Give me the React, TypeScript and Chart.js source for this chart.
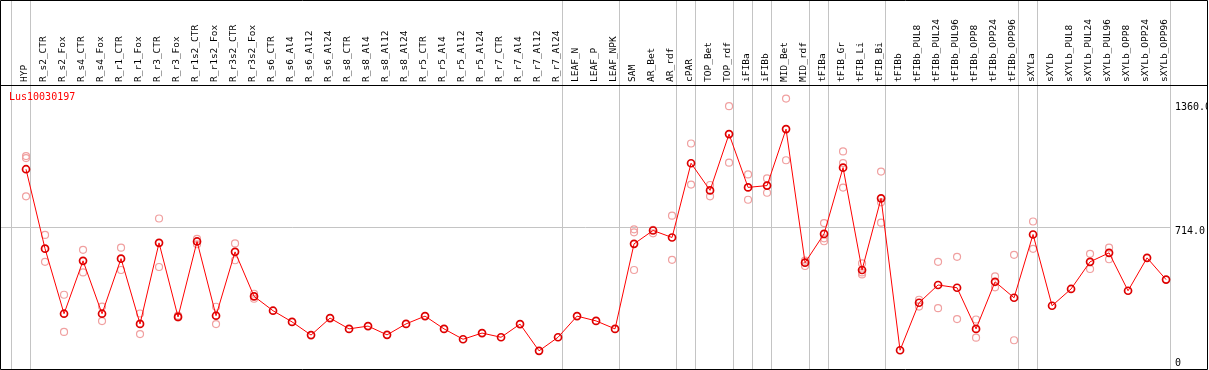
import React, { useEffect, useRef } from 'react';
import { Chart, registerables } from 'chart.js';

Chart.register(...registerables);

// ---------- data ----------
const categories = [
  'HYP',
  'R_s2_CTR', 'R_s2_Fox', 'R_s4_CTR', 'R_s4_Fox', 'R_r1_CTR', 'R_r1_Fox', 'R_r3_CTR', 'R_r3_Fox',
  'R_r1s2_CTR', 'R_r1s2_Fox', 'R_r3s2_CTR', 'R_r3s2_Fox',
  'R_s6_CTR', 'R_s6_Al4', 'R_s6_Al12', 'R_s6_Al24',
  'R_s8_CTR', 'R_s8_Al4', 'R_s8_Al12', 'R_s8_Al24',
  'R_r5_CTR', 'R_r5_Al4', 'R_r5_Al12', 'R_r5_Al24',
  'R_r7_CTR', 'R_r7_Al4', 'R_r7_Al12', 'R_r7_Al24',
  'LEAF_N', 'LEAF_P', 'LEAF_NPK',
  'SAM', 'AR_Bet', 'AR_rdf', 'cPAR', 'TOP_Bet', 'TOP_rdf', 'iFIBa', 'iFIBb', 'MID_Bet', 'MID_rdf',
  'tFIBa', 'tFIB_Gr', 'tFIB_Li', 'tFIB_Bi',
  'tFIBb', 'tFIBb_PUL8', 'tFIBb_PUL24', 'tFIBb_PUL96', 'tFIBb_OPP8', 'tFIBb_OPP24', 'tFIBb_OPP96',
  'sXYLa',
  'sXYLb', 'sXYLb_PUL8', 'sXYLb_PUL24', 'sXYLb_PUL96', 'sXYLb_OPP8', 'sXYLb_OPP24', 'sXYLb_OPP96',
];

const meanValues = [
  1006,
  608, 282, 547, 282, 558, 231, 637, 266,
  644, 272, 592, 369,
  297, 241, 175, 260,
  206, 220, 176, 231,
  270, 206, 154, 185,
  164, 230, 96, 164,
  270, 246, 206,
  632, 699, 664, 1036, 900, 1182, 915, 924, 1207, 538,
  682, 1014, 501, 860,
  99, 337, 426, 412, 206, 442, 362,
  679,
  322, 406, 542, 587, 397, 562, 453,
];

const N = null;
const rep1 = [
  1072,
  677, 377, 602, 318, 613, 283, 759, 272,
  657, 317, 634, 382,
  N, N, N, N,
  N, N, N, N,
  N, N, N, N,
  N, N, N, N,
  N, N, N,
  705, 702, 773, 1135, 927, 1322, 980, 960, 1360, 548,
  736, 1095, 534, 994,
  N, 352, 542, 567, 253, 469, 577,
  744,
  N, N, 582, 613, N, N, N,
];
const rep2 = [
  1062,
  542, 191, 489, 245, 501, 180, 516, 263,
  630, 230, 550, 357,
  N, N, N, N,
  N, N, N, N,
  N, N, N, N,
  N, N, N, N,
  N, N, N,
  690, 685, 552, 929, 870, 1039, 853, 888, 1051, 521,
  660, 1037, 489, 840,
  N, 318, 310, 255, 162, 414, 149,
  607,
  N, N, 506, 555, N, N, N,
];
const rep3 = [
  870,
  N, N, N, N, N, N, N, N,
  N, N, N, N,
  N, N, N, N,
  N, N, N, N,
  N, N, N, N,
  N, N, N, N,
  N, N, N,
  501, N, N, N, N, N, N, N, N, N,
  645, 914, 479, 738,
  N, N, N, N, N, N, N,
  N,
  N, N, N, N, N, N, N,
];

// last category index of each group (group separators drawn just after them)
const groupEnds = [-1, 0, 28, 31, 34, 35, 37, 38, 39, 41, 42, 45, 52, 53, 60];

const yTickValues = [0, 714, 1360];
const yTickLabels = ['0', '714.0', '1360.0'];
const yGridValues = [714];
const geneName = 'Lus10030197';

// ---------- layout / style constants ----------
const W = 1209;
const H = 370;
const HEADER_H = 85;
const Y_AXIS_W = 38;
const X_MIN = -1.37;
const X_MAX = 60.26;
const Y_MAX = 1428;
const SEP_OFFSET = 0.25;
const LABEL_OFFSET = 0.54;
const Y_LABEL_SHIFT = [-7, 4, 9];
const MONO = 'DejaVu Sans Mono';
const GRID = '#c4c4c4';

const toPoints = (arr: (number | null)[]) =>
  arr
    .map((v, i) => (v == null ? null : { x: i, y: v }))
    .filter((p) => p !== null) as { x: number; y: number }[];

const zeroPad = (a: any) => {
  a.paddingLeft = 0;
  a.paddingRight = 0;
  a.paddingTop = 0;
  a.paddingBottom = 0;
};

const yLabelShiftPlugin = {
  id: 'yLabelShift',
  beforeDraw(chart: any) {
    const s = chart.scales.y;
    if (!s) return;
    const items = s.getLabelItems(chart.chartArea);
    items.forEach((it: any, idx: number) => {
      if (it.__shifted) return;
      const shift = Y_LABEL_SHIFT[idx] ?? 0;
      it.options.translation = [it.options.translation[0], it.options.translation[1] + shift];
      it.__shifted = true;
    });
  },
};

const framePlugin = {
  id: 'frame',
  afterDraw(chart: any) {
    const ctx = chart.ctx as CanvasRenderingContext2D;
    const area = chart.chartArea;
    ctx.save();
    ctx.fillStyle = '#fff';
    ctx.fillRect(W - 1, 0, 1, H);
    ctx.strokeStyle = '#000';
    ctx.lineWidth = 1;
    ctx.beginPath();
    ctx.rect(0.5, 0.5, W - 2, H - 1);
    ctx.moveTo(0, area.top + 0.5);
    ctx.lineTo(W - 1, area.top + 0.5);
    ctx.stroke();
    ctx.fillStyle = '#ff0000';
    ctx.font = `10px "${MONO}"`;
    ctx.textAlign = 'left';
    ctx.textBaseline = 'middle';
    ctx.fillText(geneName, 9, area.top + 12);
    ctx.restore();
  },
};

const repStyle = {
  showLine: false,
  pointRadius: 3.5,
  pointBorderWidth: 1.2,
  pointBorderColor: '#f0a0a0',
  pointBackgroundColor: 'rgba(0,0,0,0)',
  borderColor: '#f0a0a0',
  order: 1,
};

export default function App() {
  const ref = useRef<HTMLCanvasElement>(null);

  useEffect(() => {
    document.body.style.margin = '0';
    Chart.defaults.font.family = MONO;
    const canvas = ref.current!;
    const chart = new Chart(canvas, {
      type: 'line',
      data: {
        datasets: [
          {
            label: 'mean',
            data: toPoints(meanValues),
            borderColor: '#ff0000',
            borderWidth: 1,
            tension: 0,
            pointRadius: 3.5,
            pointBorderWidth: 1.7,
            pointBorderColor: '#dd0000',
            pointBackgroundColor: 'rgba(0,0,0,0)',
            order: 0,
          },
          { label: 'rep1', data: toPoints(rep1), ...repStyle },
          { label: 'rep2', data: toPoints(rep2), ...repStyle },
          { label: 'rep3', data: toPoints(rep3), ...repStyle },
        ] as any,
      },
      options: {
        responsive: false,
        animation: false,
        devicePixelRatio: 1,
        layout: { padding: 0, autoPadding: false },
        plugins: {
          legend: { display: false },
          tooltip: { enabled: false },
          title: { display: false },
        },
        scales: {
          x: {
            type: 'linear',
            position: 'top',
            min: X_MIN,
            max: X_MAX,
            bounds: 'data',
            weight: 1,
            afterBuildTicks: (a: any) => {
              a.ticks = categories.map((_, i) => ({ value: i + LABEL_OFFSET }));
            },
            afterFit: (a: any) => {
              a.height = HEADER_H;
              zeroPad(a);
            },
            grid: { display: false, drawTicks: false },
            border: { display: false },
            ticks: {
              autoSkip: false,
              maxRotation: 90,
              minRotation: 90,
              padding: 3,
              color: '#000',
              font: { family: MONO, size: 9.5 },
              callback: (_v: any, i: number) => categories[i],
            },
          },
          xs: {
            type: 'linear',
            position: 'top',
            min: X_MIN,
            max: X_MAX,
            bounds: 'data',
            weight: 0,
            afterBuildTicks: (a: any) => {
              a.ticks = groupEnds.map((e) => ({ value: e + SEP_OFFSET }));
            },
            afterFit: (a: any) => {
              a.height = 0;
              zeroPad(a);
            },
            grid: { color: GRID, lineWidth: 1, drawTicks: true, tickLength: HEADER_H },
            border: { display: false },
            ticks: { display: false },
          },
          y: {
            type: 'linear',
            position: 'right',
            min: 0,
            max: Y_MAX,
            afterBuildTicks: (a: any) => {
              a.ticks = yTickValues.map((v) => ({ value: v }));
            },
            afterFit: (a: any) => {
              a.width = Y_AXIS_W;
              zeroPad(a);
            },
            grid: {
              drawTicks: false,
              color: (ctx: any) =>
                ctx.tick && yGridValues.includes(ctx.tick.value) ? GRID : 'rgba(0,0,0,0)',
            },
            border: { display: false },
            ticks: {
              padding: 4,
              color: '#000',
              font: { family: MONO, size: 10 },
              callback: (_v: any, i: number) => yTickLabels[i],
            },
          },
        },
      } as any,
      plugins: [yLabelShiftPlugin, framePlugin],
    });
    return () => chart.destroy();
  }, []);

  return (
    <canvas
      ref={ref}
      width={W}
      height={H}
      style={{ display: 'block', width: `${W}px`, height: `${H}px` }}
    />
  );
}
